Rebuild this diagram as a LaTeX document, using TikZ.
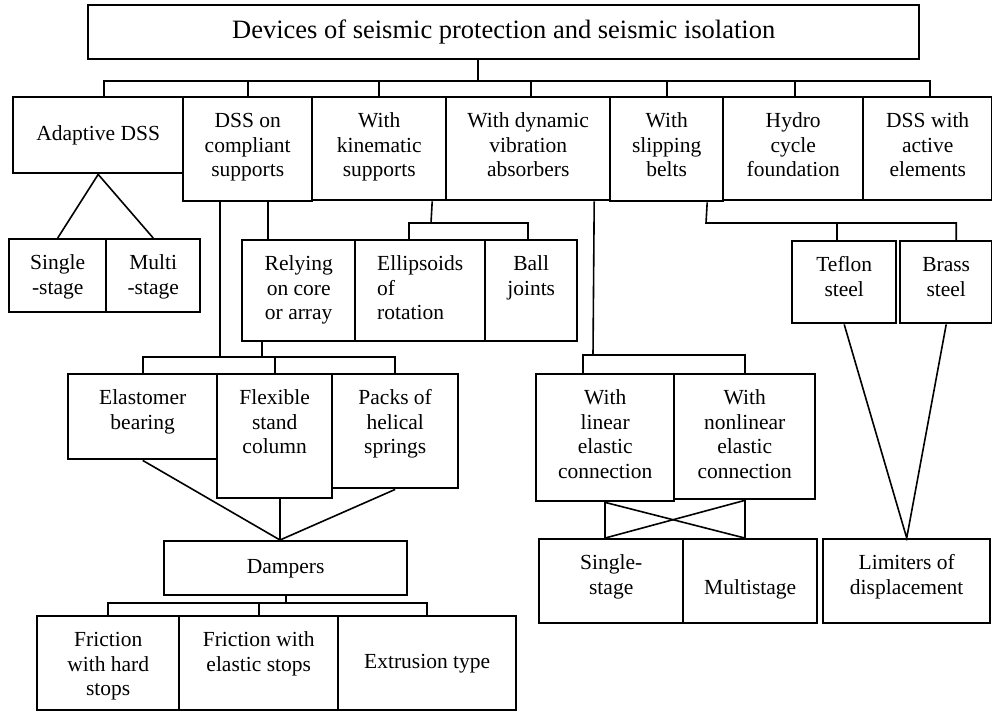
\documentclass[tikz,border=0pt]{standalone}
\usepackage{fontspec}
\setmainfont{Liberation Serif}
\usepackage{tikz}
\usetikzlibrary{positioning}
\tikzstyle{cell} = [draw, line width=2.4pt, inner sep=0pt, anchor=north west]
\tikzstyle{link} = [line width=1.6pt]
\tikzstyle{every node}=[font=\fontsize{21.5}{24.5}\selectfont]
\newcommand{\topcell}[3]{\parbox[c][#2][t]{#1}{\centering\vspace*{13.5pt}\strut#3\strut}}
\newcommand{\midcell}[3]{\parbox[c][#2][c]{#1}{\centering\strut#3\strut}}

\begin{document}
\begin{tikzpicture}[x=1pt,y=-1pt]
	\fill[white] (0,0) rectangle (992,710);
	\useasboundingbox (0,0) rectangle (992,710);

	% head
	\node[cell, font=\fontsize{26.5}{30}\selectfont] (title) at (87,4)
		{\midcell{831pt}{54pt}{Devices of seismic protection and seismic isolation}};

	% row 1
	\node[cell] (adaptive) at (12,96) {\midcell{170pt}{76pt}{Adaptive DSS}};
	\node[cell] (compliant) at (182,96) {\topcell{129pt}{104pt}{DSS on\\compliant\\supports}};
	\node[cell] (kinematic) at (311,96) {\topcell{134pt}{103pt}{With\\kinematic\\supports}};
	\node[cell] (dynamic) at (445,96) {\topcell{164pt}{103pt}{With dynamic\\vibration\\absorbers}};
	\node[cell] (slipping) at (609,96) {\topcell{113pt}{104pt}{With\\slipping\\belts}};
	\node[cell] (hydro) at (722,96) {\topcell{140pt}{103pt}{Hydro\\cycle\\foundation}};
	\node[cell] (active) at (862,96) {\topcell{129pt}{103pt}{DSS with\\active\\elements}};

	% row 2
	\node[cell] (single1) at (8,238) {\topcell{97pt}{73pt}{Single\\-stage}};
	\node[cell] (multi1) at (105,238) {\topcell{94pt}{73pt}{Multi\\-stage}};
	\node[cell] (relying) at (241,239) {\topcell{113pt}{101pt}{Relying\\on core\\or array}};
	\node[cell] (ellipsoids) at (354,239)
		{\topcell{130pt}{101pt}{\begin{tabular}[t]{@{}l@{}}Ellipsoids\\of\\rotation\end{tabular}}};
	\node[cell] (ball) at (484,239) {\topcell{92pt}{101pt}{Ball\\joints}};
	\node[cell] (teflon) at (791,240) {\topcell{104pt}{82pt}{Teflon\\steel}};
	\node[cell] (brass) at (899,240) {\topcell{92pt}{82pt}{Brass\\steel}};

	% row 3
	\node[cell] (elastomer) at (67,373) {\topcell{149pt}{85pt}{Elastomer\\bearing}};
	\node[cell] (flexible) at (216,373) {\topcell{115pt}{124pt}{Flexible\\stand\\column}};
	\node[cell] (packs) at (331,373) {\topcell{126pt}{114pt}{Packs of\\helical\\springs}};
	\node[cell] (linear) at (535,373) {\topcell{138pt}{127pt}{With\\linear\\elastic\\connection}};
	\node[cell] (nonlinear) at (673,373) {\topcell{141pt}{125pt}{With\\nonlinear\\elastic\\connection}};

	% row 4
	\node[cell] (dampers) at (163,540) {\midcell{243pt}{54pt}{Dampers}};
	\node[cell] (single2) at (538,538) {\topcell{144pt}{84pt}{Single-\\stage}};
	\node[cell] (multi2) at (682,538) {\topcell{134pt}{84pt}{\\Multistage}};
	\node[cell] (limiters) at (822,538) {\topcell{167pt}{84pt}{Limiters of\\displacement}};

	% row 5
	\node[cell] (frhard) at (36,615) {\topcell{142pt}{94pt}{Friction\\with hard\\stops}};
	\node[cell] (frelastic) at (178,615) {\topcell{159pt}{94pt}{Friction with\\elastic stops}};
	\node[cell] (extrusion) at (337,615) {\midcell{178pt}{94pt}{Extrusion type}};

	% buses
	\coordinate (topbus) at (478,81);
	\coordinate (kinbus) at (431,223);
	\coordinate (slipbus) at (706,223);
	\coordinate (dynbus) at (593,355);
	\coordinate (lowbus) at (261,357);
	\coordinate (dampbus) at (286,603);
	\coordinate (dampapex) at (280,540);

	% head -> row 1
	\draw[link] (title.south -| topbus) to (topbus);
	\draw[link] ([xshift=6pt]adaptive.north) |- (topbus) -| ([xshift=2.5pt]active.north);
	\draw[link] (compliant.north) to (compliant.north |- topbus);
	\draw[link] (kinematic.north) to (kinematic.north |- topbus);
	\draw[link] ([xshift=3pt]dynamic.north) to ([xshift=3pt]dynamic.north |- topbus);
	\draw[link] (slipping.north) to (slipping.north |- topbus);
	\draw[link] ([xshift=2pt]hydro.north) to ([xshift=2pt]hydro.north |- topbus);

	% adaptive
	\draw[link] (single1.north) to (adaptive.south) to (multi1.north);

	% compliant
	\draw[link] ([xshift=-30.5pt]relying.north) to ([xshift=-30.5pt]relying.north |- compliant.south);
	\draw[link] ([xshift=-27.5pt]compliant.south) to ([xshift=-27.5pt]compliant.south |- lowbus);

	% kinematic
	\draw[link] ([xshift=53pt]kinematic.south) to (kinbus);
	\draw[link] ([xshift=-11pt]ellipsoids.north) |- (kinbus) -| ([xshift=-3pt]ball.north);

	% relying -> row 3
	\draw[link] ([xshift=-36.5pt]relying.south) to ([xshift=-36.5pt]relying.south |- lowbus);
	\draw[link] (elastomer.north) |- (lowbus) -| (packs.north);
	\draw[link] (flexible.north) to (flexible.north |- lowbus);

	% dampers
	\draw[link] (elastomer.south) to (dampapex);
	\draw[link] (flexible.south -| dampapex) to (dampapex);
	\draw[link] (packs.south) to (dampapex);
	\draw[link] (dampers.south -| dampbus) to (dampbus);
	\draw[link] (frhard.north) |- (dampbus) -| (extrusion.north);
	\draw[link] (frelastic.north) to (frelastic.north |- dampbus);

	% dynamic
	\draw[link] ([xshift=66pt]dynamic.south) to (dynbus);
	\draw[link] ([xshift=-22pt]linear.north) |- (dynbus) -| (nonlinear.north);
	\draw[link] (linear.south) to (linear.south |- single2.north);
	\draw[link] (linear.south) to (nonlinear.south |- multi2.north);
	\draw[link] (nonlinear.south) to (nonlinear.south |- multi2.north);
	\draw[link] (nonlinear.south) to (linear.south |- single2.north);

	% slipping
	\draw[link] ([xshift=40.5pt]slipping.south) to (slipbus) -| ([xshift=10pt]brass.north);
	\draw[link] ([xshift=-7pt]teflon.north) to ([xshift=-7pt]teflon.north |- slipbus);
	\draw[link] (teflon.south) to (limiters.north) to (brass.south);
\end{tikzpicture}
\end{document}
